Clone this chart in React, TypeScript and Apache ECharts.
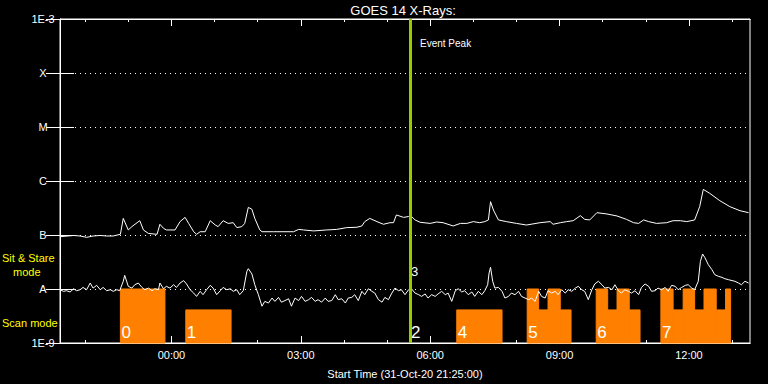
import React, { useEffect, useRef } from "react";
import * as echarts from "echarts";

// Start of the plot: 31-Oct-20 21:25:00, span 16 hours (minutes from start on x)
const startMinuteOfDay = 21 * 60 + 25;
const spanMinutes = 960;

const xTickLabels = ["00:00", "03:00", "06:00", "09:00", "12:00"];
const yTickLabels = ["1E-9", "A", "B", "C", "M", "X", "1E-3"];

// GOES 14 long channel (1-8 A), minutes from start / W m^-2
const longTimes = [
  0, 19, 28, 37, 46, 56, 65, 74, 84, 88,
  95, 100, 111, 116, 123, 135, 139, 144, 148, 160,
  167, 174, 179, 186, 190, 195, 202, 209, 216, 220,
  227, 234, 241, 246, 253, 257, 262, 267, 271, 278,
  281, 297, 325, 332, 339, 353, 371, 385, 399, 413,
  420, 424, 431, 441, 450, 459, 464, 468, 478, 485,
  487, 494, 501, 515, 524, 533, 547, 557, 566, 575,
  584, 591, 596, 599, 603, 610, 621, 635, 649, 668,
  682, 686, 696, 705, 714, 724, 730, 737, 747, 761,
  775, 788, 798, 805, 812, 819, 830, 844, 853, 863,
  872, 883, 890, 895, 904, 918, 932, 946, 958,
];
const longFlux = [
  0.93e-7, 0.98e-7, 0.958e-7, 0.905e-7, 0.958e-7, 0.98e-7, 0.958e-7, 0.958e-7, 1.03e-7, 2.03e-7,
  1.24e-7, 1.43e-7, 1.84e-7, 1.24e-7, 1.07e-7, 1.03e-7, 1.58e-7, 1.33e-7, 1.24e-7, 1.24e-7,
  1.77e-7, 2.12e-7, 1.64e-7, 1.15e-7, 1.03e-7, 1.15e-7, 1.15e-7, 1.84e-7, 1.53e-7, 1.43e-7,
  1.84e-7, 1.64e-7, 1.69e-7, 1.37e-7, 1.43e-7, 1.64e-7, 3.25e-7, 2.99e-7, 2.03e-7, 1.24e-7,
  1.15e-7, 1.15e-7, 1.15e-7, 1.27e-7, 1.24e-7, 1.19e-7, 1.24e-7, 1.27e-7, 1.37e-7, 1.39e-7,
  1.47e-7, 1.77e-7, 2.03e-7, 1.77e-7, 1.58e-7, 1.69e-7, 1.69e-7, 2.35e-7, 2.12e-7, 2.2e-7,
  2.35e-7, 1.9e-7, 1.72e-7, 1.64e-7, 1.74e-7, 1.69e-7, 1.47e-7, 1.64e-7, 1.64e-7, 1.77e-7,
  1.69e-7, 1.77e-7, 1.9e-7, 4.14e-7, 2.9e-7, 1.9e-7, 1.77e-7, 1.64e-7, 1.53e-7, 1.69e-7,
  1.77e-7, 1.58e-7, 1.69e-7, 1.77e-7, 1.84e-7, 2.28e-7, 1.95e-7, 1.9e-7, 2.59e-7, 2.45e-7,
  2.25e-7, 1.95e-7, 1.69e-7, 1.64e-7, 1.9e-7, 1.77e-7, 1.64e-7, 1.69e-7, 1.84e-7, 1.84e-7,
  1.77e-7, 1.9e-7, 3.35e-7, 7.0e-7, 5.9e-7, 4.32e-7, 3.35e-7, 2.82e-7, 2.59e-7,
];

// GOES 14 short channel (0.5-4 A)
const shortTimes = [
  0, 5, 9, 14, 19, 23, 28, 32, 37, 42,
  46, 51, 56, 60, 65, 70, 74, 79, 83, 88,
  90, 95, 100, 104, 109, 114, 118, 123, 128, 132,
  137, 139, 144, 148, 153, 158, 162, 167, 172, 176,
  181, 186, 190, 195, 199, 204, 209, 213, 218, 223,
  227, 232, 237, 241, 246, 250, 255, 260, 262, 267,
  271, 276, 281, 285, 290, 295, 299, 304, 308, 313,
  318, 322, 327, 332, 336, 341, 346, 350, 355, 359,
  364, 369, 373, 378, 383, 387, 392, 397, 401, 406,
  410, 415, 420, 424, 429, 434, 438, 443, 448, 452,
  457, 461, 466, 471, 475, 480, 485, 489, 494, 499,
  503, 508, 512, 517, 522, 526, 531, 536, 540, 545,
  550, 554, 559, 563, 568, 573, 577, 582, 587, 591,
  595, 597, 599, 602, 605, 610, 615, 619, 624, 628,
  633, 638, 642, 647, 652, 656, 661, 666, 670, 675,
  679, 684, 689, 693, 698, 703, 707, 712, 717, 721,
  726, 730, 735, 740, 744, 749, 754, 758, 763, 768,
  772, 777, 781, 786, 791, 795, 800, 805, 809, 814,
  819, 823, 828, 832, 837, 842, 846, 851, 856, 860,
  865, 870, 874, 879, 883, 888, 891, 894, 897, 902,
  907, 911, 916, 921, 925, 930, 935, 939, 944, 948,
  953, 958,
];
const shortFlux = [
  0.97e-8, 0.905e-8, 0.93e-8, 0.88e-8, 1.01e-8, 0.93e-8, 0.97e-8, 1.07e-8, 0.97e-8, 1.29e-8,
  1.04e-8, 1.17e-8, 0.97e-8, 1.07e-8, 0.93e-8, 0.97e-8, 0.905e-8, 0.97e-8, 0.93e-8, 1.39e-8,
  1.79e-8, 1.12e-8, 1.04e-8, 1.2e-8, 1.29e-8, 1.07e-8, 0.97e-8, 1.04e-8, 0.93e-8, 1.01e-8,
  0.97e-8, 1.29e-8, 1.01e-8, 1.12e-8, 1.04e-8, 1.2e-8, 1.07e-8, 1.29e-8, 1.43e-8, 1.24e-8,
  0.97e-8, 0.84e-8, 0.73e-8, 0.905e-8, 0.785e-8, 0.97e-8, 1.17e-8, 1.04e-8, 0.785e-8, 0.93e-8,
  1.07e-8, 0.97e-8, 1.01e-8, 0.905e-8, 0.97e-8, 0.785e-8, 0.93e-8, 2.12e-8, 2.38e-8, 1.9e-8,
  1.2e-8, 0.785e-8, 0.48e-8, 0.59e-8, 0.55e-8, 0.68e-8, 0.59e-8, 0.7e-8, 0.57e-8, 0.61e-8,
  0.66e-8, 0.48e-8, 0.68e-8, 0.61e-8, 0.73e-8, 0.59e-8, 0.635e-8, 0.7e-8, 0.59e-8, 0.635e-8,
  0.57e-8, 0.68e-8, 0.59e-8, 0.61e-8, 0.785e-8, 0.635e-8, 0.66e-8, 0.55e-8, 0.68e-8, 0.7e-8,
  0.785e-8, 0.61e-8, 0.905e-8, 0.785e-8, 1.01e-8, 0.905e-8, 0.84e-8, 0.635e-8, 0.57e-8, 0.7e-8,
  0.635e-8, 0.81e-8, 1.04e-8, 0.93e-8, 0.97e-8, 0.785e-8, 0.97e-8, 1.01e-8, 0.84e-8, 0.785e-8,
  0.73e-8, 0.81e-8, 0.68e-8, 0.785e-8, 0.73e-8, 0.81e-8, 0.905e-8, 0.785e-8, 0.84e-8, 0.59e-8,
  0.93e-8, 1.01e-8, 0.88e-8, 0.93e-8, 0.785e-8, 0.88e-8, 0.73e-8, 0.905e-8, 0.785e-8, 0.93e-8,
  1.2e-8, 1.98e-8, 2.52e-8, 1.39e-8, 1.04e-8, 1.07e-8, 0.905e-8, 0.68e-8, 0.73e-8, 0.84e-8,
  0.785e-8, 0.905e-8, 0.73e-8, 0.68e-8, 0.635e-8, 0.68e-8, 0.59e-8, 0.905e-8, 0.73e-8, 0.68e-8,
  0.93e-8, 0.84e-8, 0.905e-8, 0.785e-8, 0.97e-8, 0.84e-8, 0.97e-8, 0.905e-8, 1.04e-8, 1.12e-8,
  0.97e-8, 0.905e-8, 0.635e-8, 0.97e-8, 1.24e-8, 1.39e-8, 1.2e-8, 1.04e-8, 1.07e-8, 0.97e-8,
  1.2e-8, 0.93e-8, 0.84e-8, 0.97e-8, 0.905e-8, 0.84e-8, 0.93e-8, 0.785e-8, 1.07e-8, 1.24e-8,
  1.12e-8, 0.905e-8, 0.93e-8, 1.04e-8, 0.97e-8, 1.07e-8, 0.905e-8, 1.17e-8, 1.12e-8, 0.97e-8,
  1.07e-8, 1.17e-8, 1.2e-8, 1.04e-8, 0.97e-8, 1.39e-8, 3.25e-8, 4.45e-8, 3.86e-8, 2.82e-8,
  2.28e-8, 1.84e-8, 1.72e-8, 1.64e-8, 1.55e-8, 1.49e-8, 1.43e-8, 1.39e-8, 1.29e-8, 1.2e-8,
  1.39e-8, 1.29e-8,
];

const eventPeakMinute = 487;

// Observation segments (numbered observations, sit & stare / scan mode)
const segObs = [0, 1, 2, 3, 4, 5, 5, 5, 5, 6, 6, 6, 6, 7, 7, 7, 7, 7, 7, 7];
const segStart = [84, 175, 487, 487, 552, 650, 666, 679, 696, 746, 762, 775, 792, 836, 853, 867, 883, 896, 913, 926];
const segEnd = [146, 238, 487, 487, 615, 666, 679, 696, 711, 762, 775, 792, 807, 853, 867, 883, 896, 913, 926, 933];
const segMode = ["sit", "scan", "scan", "sit", "scan", "sit", "scan", "sit", "scan", "sit", "scan", "sit", "scan", "sit", "scan", "sit", "scan", "sit", "scan", "sit"];

const sitLevel = 1e-8;
const scanLevel = 4.1e-9;
const yMin = 1e-9;
const yMax = 1e-3;

const FONT = "Liberation Sans";

function labelToMinute(lbl: string): number {
  const [h, m] = lbl.split(":").map(Number);
  return (h * 60 + m - startMinuteOfDay + 1440) % 1440;
}
function minuteToLabel(v: number): string {
  const t = Math.round(startMinuteOfDay + v) % 1440;
  const h = Math.floor(t / 60);
  const m = t % 60;
  return `${String(h).padStart(2, "0")}:${String(m).padStart(2, "0")}`;
}

const majorTicks = xTickLabels.map(labelToMinute);
const hourTicks: number[] = [];
for (let v = 60 - (startMinuteOfDay % 60); v <= spanMinutes; v += 60) hourTicks.push(v);

export default function App() {
  const ref = useRef<HTMLDivElement>(null);
  useEffect(() => {
    document.body.style.margin = "0";
    document.body.style.background = "#000";
    const chart = echarts.init(ref.current!, undefined, { renderer: "svg" });

    const longData = longTimes.slice(0, Math.min(longTimes.length, longFlux.length)).map((t, i) => [t, longFlux[i]]);
    const shortData = shortTimes.slice(0, Math.min(shortTimes.length, shortFlux.length)).map((t, i) => [t, shortFlux[i]]);
    const segData = segStart.map((s, i) => [s, segEnd[i], segMode[i] === "sit" ? sitLevel : scanLevel, i]);

    const xBase = {
      type: "value",
      min: 0,
      max: spanMinutes,
      splitLine: { show: false },
      axisLine: { show: true, lineStyle: { color: "#fff", width: 1 } },
    };

    const option: any = {
      animation: false,
      backgroundColor: "#000",
      grid: { left: 60, right: 18, top: 19, bottom: 41, show: true, borderColor: "#fff", borderWidth: 1 },
      graphic: [
        { type: "text", x: 403, y: 10, style: { text: "GOES 14 X-Rays:", fill: "#fff", font: `13px "${FONT}"`, align: "center", verticalAlign: "middle" } },
        { type: "text", x: 420, y: 43, style: { text: "Event Peak", fill: "#fff", font: `10px "${FONT}"`, align: "left", verticalAlign: "middle" } },
        { type: "text", x: 2, y: 258, style: { text: "Sit & Stare", fill: "#ffff00", font: `11px "${FONT}"`, align: "left", verticalAlign: "middle" } },
        { type: "text", x: 13, y: 272, style: { text: "mode", fill: "#ffff00", font: `11px "${FONT}"`, align: "left", verticalAlign: "middle" } },
        { type: "text", x: 2, y: 323, style: { text: "Scan mode", fill: "#ffff00", font: `11px "${FONT}"`, align: "left", verticalAlign: "middle" } },
      ],
      xAxis: [
        {
          ...xBase,
          position: "bottom",
          name: "Start Time (31-Oct-20 21:25:00)",
          nameLocation: "middle",
          nameGap: 25,
          nameTextStyle: { color: "#fff", fontFamily: FONT, fontSize: 11 },
          axisTick: { show: true, inside: true, length: 7, customValues: majorTicks, lineStyle: { color: "#fff" } },
          axisLabel: { show: true, customValues: majorTicks, formatter: (v: number) => minuteToLabel(v), color: "#fff", fontFamily: FONT, fontSize: 11, margin: 6 },
        },
        {
          ...xBase,
          position: "bottom",
          axisTick: { show: true, inside: true, length: 3, customValues: hourTicks, lineStyle: { color: "#fff" } },
          axisLabel: { show: false },
        },
        {
          ...xBase,
          position: "top",
          axisTick: { show: true, inside: true, length: 7, customValues: majorTicks, lineStyle: { color: "#fff" } },
          axisLabel: { show: false },
        },
        {
          ...xBase,
          position: "top",
          axisTick: { show: true, inside: true, length: 3, customValues: hourTicks, lineStyle: { color: "#fff" } },
          axisLabel: { show: false },
        },
      ],
      yAxis: [
        {
          type: "log",
          logBase: 10,
          min: yMin,
          max: yMax,
          splitNumber: 6,
          position: "left",
          axisLine: { show: true, lineStyle: { color: "#fff" } },
          axisTick: { show: true, inside: true, length: 14, lineStyle: { color: "#fff" } },
          minorTick: { show: false },
          splitLine: { show: true, lineStyle: { color: "#fff", width: 1, type: [1, 4] } },
          axisLabel: {
            show: true,
            color: "#fff",
            fontFamily: FONT,
            fontSize: 11,
            align: "center",
            margin: 17,
            formatter: (v: number) => yTickLabels[Math.round(Math.log10(v)) + 9] ?? "",
          },
        },
        {
          type: "log",
          logBase: 10,
          min: yMin,
          max: yMax,
          splitNumber: 6,
          position: "right",
          axisLine: { show: true, lineStyle: { color: "#fff" } },
          axisTick: { show: true, inside: true, length: 14, lineStyle: { color: "#fff" } },
          splitLine: { show: false },
          axisLabel: { show: false },
        },
      ],
      series: [
        {
          type: "custom",
          xAxisIndex: 0,
          yAxisIndex: 0,
          z: 2,
          silent: true,
          encode: { x: [0, 1], y: 2 },
          data: segData,
          renderItem: (params: any, api: any) => {
            const i = api.value(3);
            const s = api.value(0);
            const e = api.value(1);
            const lvl = api.value(2);
            const p0 = api.coord([s, lvl]);
            const p1 = api.coord([e, yMin]);
            const children: any[] = [];
            const w = p1[0] - p0[0];
            if (w > 0) {
              children.push({
                type: "rect",
                shape: { x: p0[0], y: p0[1], width: w, height: p1[1] - p0[1] },
                style: { fill: "#ff8000", stroke: "#ff8000", lineWidth: 1 },
              });
            }
            const isFirst = i === 0 || segObs[i - 1] !== segObs[i];
            if (isFirst) {
              const stacked = i > 0 && segStart[i - 1] === segStart[i];
              const yText = stacked ? api.coord([s, sitLevel])[1] - 11 : p1[1] - 2;
              children.push({
                type: "text",
                z2: 10,
                style: {
                  text: String(segObs[i]),
                  x: p0[0] + 1,
                  y: yText,
                  fill: "#fff",
                  font: `${stacked ? 13 : 17}px "${FONT}"`,
                  align: "left",
                  verticalAlign: "bottom",
                },
              });
            }
            return { type: "group", children };
          },
        },
        {
          type: "line",
          name: "long",
          data: longData,
          showSymbol: false,
          symbol: "none",
          z: 3,
          silent: true,
          lineStyle: { color: "#fff", width: 1 },
        },
        {
          type: "line",
          name: "short",
          data: shortData,
          showSymbol: false,
          symbol: "none",
          z: 3,
          silent: true,
          lineStyle: { color: "#fff", width: 1 },
        },
        {
          type: "line",
          name: "peak",
          data: [],
          z: 5,
          silent: true,
          markLine: {
            silent: true,
            symbol: "none",
            label: { show: false },
            lineStyle: { color: "#99cc00", width: 3, type: "solid" },
            data: [{ xAxis: eventPeakMinute }],
          },
        },
      ],
    };
    chart.setOption(option);
    return () => chart.dispose();
  }, []);
  return <div ref={ref} style={{ position: "fixed", left: 0, top: 0, width: 768, height: 384, background: "#000" }} />;
}
